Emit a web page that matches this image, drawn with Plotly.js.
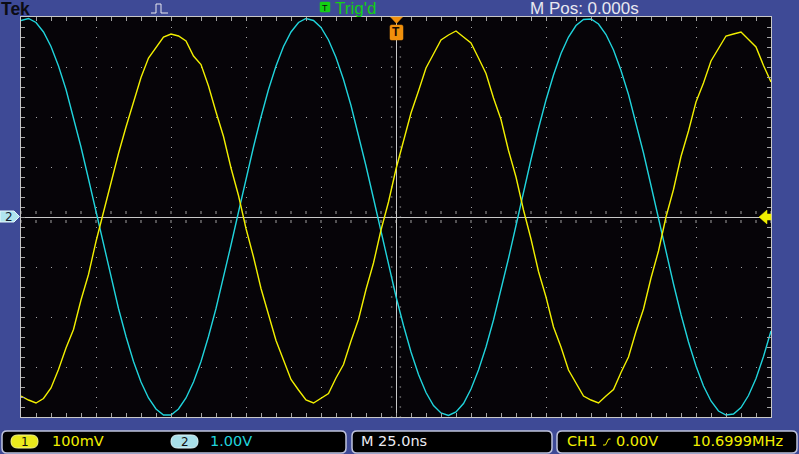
<!DOCTYPE html>
<html><head><meta charset="utf-8">
<script src="https://cdn.plot.ly/plotly-3.0.1.min.js"></script>
<style>html,body{margin:0;padding:0;background:#3e4a96;overflow:hidden}#chart{width:799px;height:454px}</style>
</head><body><div id="chart"></div>
<script>
// time axis in ns (25 ns/div, 10 divisions)
const time_ns = [-125,-122.5,-120,-117.5,-115,-112.5,-110,-107.5,-105,-102.5,-100,-97.5,-95,-92.5,-90,-87.5,-85,-82.5,-80,-77.5,-75,-72.5,-70,-67.5,-65,-62.5,-60,-57.5,-55,-52.5,-50,-47.5,-45,-42.5,-40,-37.5,-35,-32.5,-30,-27.5,-25,-22.5,-20,-17.5,-15,-12.5,-10,-7.5,-5,-2.5,0,2.5,5,7.5,10,12.5,15,17.5,20,22.5,25,27.5,30,32.5,35,37.5,40,42.5,45,47.5,50,52.5,55,57.5,60,62.5,65,67.5,70,72.5,75,77.5,80,82.5,85,87.5,90,92.5,95,97.5,100,102.5,105,107.5,110,112.5,115,117.5,120,122.5,125];
// CH1 (yellow), mV, 100 mV/div
const ch1_mV = [-358,-366,-372,-363,-342,-305,-262,-225,-166,-115,-49,10,66,127,180,230,279,318,340,360,366,362,352,322,305,262,210,161,98,43,-23,-80,-143,-194,-247,-286,-325,-346,-366,-372,-362,-353,-322,-295,-248,-205,-145,-92,-26,30,96,150,208,252,298,326,354,364,372,360,348,318,287,238,195,133,80,14,-44,-109,-160,-220,-260,-306,-332,-358,-366,-372,-358,-345,-311,-280,-229,-184,-122,-68,0,55,121,172,230,268,312,336,362,366,370,355,340,303,270];
// CH2 (cyan), V, 1 V/div
const ch2_V = [3.93,3.97,3.89,3.70,3.41,3.02,2.55,2.00,1.40,0.76,0.10,-0.56,-1.21,-1.83,-2.39,-2.89,-3.30,-3.62,-3.84,-3.96,-3.96,-3.84,-3.62,-3.30,-2.89,-2.39,-1.83,-1.21,-0.56,0.10,0.76,1.40,2.00,2.55,3.02,3.41,3.70,3.89,3.97,3.93,3.79,3.54,3.19,2.75,2.23,1.65,1.02,0.37,-0.30,-0.96,-1.59,-2.17,-2.70,-3.15,-3.51,-3.77,-3.92,-3.97,-3.90,-3.73,-3.44,-3.06,-2.60,-2.06,-1.47,-0.83,-0.17,0.50,1.15,1.77,2.34,2.84,3.27,3.60,3.83,3.95,3.96,3.86,3.65,3.34,2.93,2.45,1.89,1.28,0.63,-0.03,-0.70,-1.34,-1.95,-2.50,-2.98,-3.38,-3.68,-3.88,-3.96,-3.94,-3.81,-3.57,-3.23,-2.79,-2.28];

const L=21, R=771, T=17, B=417;
const px = x => (x-L)/(R-L);
const py = y => (B-y)/(B-T);
const BG='#3e4a96';
const YEL='#f2f000', CYN='#20d4dc';

function txt(text,x,y,size,color,family,extra){
  return Object.assign({text:text,x:px(x),y:py(y),xref:'paper',yref:'paper',xanchor:'left',yanchor:'middle',
    showarrow:false,borderpad:0,borderwidth:0,font:{family:family||'Liberation Sans, Arial, sans-serif',size:size,color:color}},extra||{});
}
function rr(x0,y0,x1,y1,r){
  return `M${px(x0+r)},${py(y0)} H${px(x1-r)} Q${px(x1)},${py(y0)} ${px(x1)},${py(y0+r)} V${py(y1-r)} Q${px(x1)},${py(y1)} ${px(x1-r)},${py(y1)} H${px(x0+r)} Q${px(x0)},${py(y1)} ${px(x0)},${py(y1-r)} V${py(y0+r)} Q${px(x0)},${py(y0)} ${px(x0+r)},${py(y0)} Z`;
}
function poly(pts){ return 'M'+pts.map(p=>px(p[0])+','+py(p[1])).join(' L')+' Z'; }
function pline(pts){ return 'M'+pts.map(p=>px(p[0])+','+py(p[1])).join(' L'); }
function pshape(path,fill,line,lw){ return {type:'path',xref:'paper',yref:'paper',path:path,fillcolor:fill||'rgba(0,0,0,0)',line:{color:line||'rgba(0,0,0,0)',width:lw||0},layer:'above'}; }

const shapes=[];
// centre-cross tick marks
const TK='#a0a0a0';
for(let i=-25;i<=25;i++){
  const x=i*5;
  shapes.push({type:'line',xref:'x',yref:'y',x0:x,x1:x,y0:0.06,y1:0.12,line:{color:TK,width:1},layer:'below'});
  shapes.push({type:'line',xref:'x',yref:'y',x0:x,x1:x,y0:-0.06,y1:-0.12,line:{color:TK,width:1},layer:'below'});
}
for(let j=-20;j<=20;j++){
  const y=j*0.2;
  shapes.push({type:'line',xref:'x',yref:'y',x0:1.2,x1:1.7,y0:y,y1:y,line:{color:TK,width:1},layer:'below'});
  shapes.push({type:'line',xref:'x',yref:'y',x0:-1.2,x1:-1.7,y0:y,y1:y,line:{color:TK,width:1},layer:'below'});
}
// bottom info boxes
const BOX='#bfc3dc';
shapes.push(pshape(rr(2,431,346,453,5),'#000',BOX,1.5));
shapes.push(pshape(rr(352,431,552,453,5),'#000',BOX,1.5));
shapes.push(pshape(rr(557,431,797,453,5),'#000',BOX,1.5));
// channel pills
shapes.push(pshape(rr(11,435,38,448,6.5),'#eaea1c','#f8f890',1));
shapes.push(pshape(rr(171,435,198,448,6.5),'#a8dfe8','#e0f6fa',1));
// trigger slope icon
shapes.push(pshape(pline([[603,445],[605.5,445],[608.5,439],[610.5,439]]),null,YEL,1));
// top bar pulse icon
shapes.push(pshape(pline([[151,13],[156,13],[156,4],[161,4],[161,13],[168,13]]),null,'#e8e8f0',1));
// Trig'd box
shapes.push(pshape(rr(320,2,330,12,1),'#14d014','#14d014',0.5));
// trigger position marker (top, orange)
shapes.push(pshape(poly([[390.5,17],[402.5,17],[396.5,23.5]]),'#f0900c','#f0900c',0.5));
shapes.push(pshape(rr(390,25,403,40,1.5),'#f0900c','#f0900c',0.5));
// CH2 ground marker (left)
shapes.push(pshape(poly([[0,211],[14,211],[19.5,216.5],[14,222],[0,222]]),'#b0e4ee','#e6f8fb',1));
// trigger level arrow (right)
shapes.push(pshape(poly([[759,217],[767,210],[767,214],[771,214],[771,220],[767,220],[767,224]]),YEL,YEL,0.5));

const annotations=[
  txt('<b>Tek</b>',1,8.5,17.5,'#0c0c14'),
  txt('T',321.6,7.5,9,'#0a0a0a','Liberation Sans, Arial, sans-serif'),
  txt("Trig'd",335,9,17,'#14d014'),
  txt('M Pos: 0.000s',530,9,17,'#e8e8f0'),
  txt('<b>T</b>',392,32.5,12,'#1a0a00'),
  txt('2',5,216.5,12,'#102030','DejaVu Sans, sans-serif'),
  txt('1',21,441.5,12,'#111','DejaVu Sans, sans-serif'),
  txt('100mV',52,440.5,14.5,YEL,'DejaVu Sans, sans-serif'),
  txt('2',181,441.5,12,'#111','DejaVu Sans, sans-serif'),
  txt('1.00V',210,440.5,14.5,CYN,'DejaVu Sans, sans-serif'),
  txt('M 25.0ns',361,440.5,14.5,'#ececf2','DejaVu Sans, sans-serif'),
  txt('CH1',567,440.5,14.5,YEL,'DejaVu Sans, sans-serif'),
  txt('0.00V',616,440.5,14.5,YEL,'DejaVu Sans, sans-serif'),
  txt('10.6999MHz',692,440.5,14.5,YEL,'DejaVu Sans, sans-serif')
];

const GRID='#a4a4a4', LINE='#c8c8c8';
const layout={
  width:799,height:454,
  margin:{l:L,r:799-R,t:T,b:454-B,pad:0},
  paper_bgcolor:BG, plot_bgcolor:'#060408',
  showlegend:false,
  xaxis:{range:[-125,125],dtick:25,tick0:0,showticklabels:false,
    showgrid:true,gridcolor:GRID,gridwidth:1,griddash:'1px,9px',
    zeroline:true,zerolinecolor:LINE,zerolinewidth:1,
    showline:true,linecolor:LINE,linewidth:1,mirror:'ticks',
    ticks:'inside',ticklen:4,tickcolor:GRID,
    minor:{dtick:5,tick0:0,ticks:'inside',ticklen:4,tickcolor:GRID,showgrid:false},
    fixedrange:true},
  yaxis:{range:[-4,4],dtick:1,tick0:0,showticklabels:false,
    showgrid:true,gridcolor:GRID,gridwidth:1,griddash:'1px,14px',
    zeroline:true,zerolinecolor:LINE,zerolinewidth:1,
    showline:true,linecolor:LINE,linewidth:1,mirror:'ticks',
    ticks:'inside',ticklen:4,tickcolor:GRID,
    minor:{dtick:0.2,tick0:0,ticks:'inside',ticklen:4,tickcolor:GRID,showgrid:false},
    fixedrange:true},
  yaxis2:{range:[-400,400],overlaying:'y',side:'right',visible:false,showgrid:false,zeroline:false,fixedrange:true},
  shapes:shapes,
  annotations:annotations
};
const traces=[
  {x:time_ns,y:ch2_V,type:'scatter',mode:'lines',name:'CH2',yaxis:'y',line:{color:CYN,width:1.4},hoverinfo:'skip'},
  {x:time_ns,y:ch1_mV,type:'scatter',mode:'lines',name:'CH1',yaxis:'y2',line:{color:YEL,width:1.4},hoverinfo:'skip'}
];
Plotly.newPlot('chart',traces,layout,{staticPlot:true,displayModeBar:false});
</script></body></html>
